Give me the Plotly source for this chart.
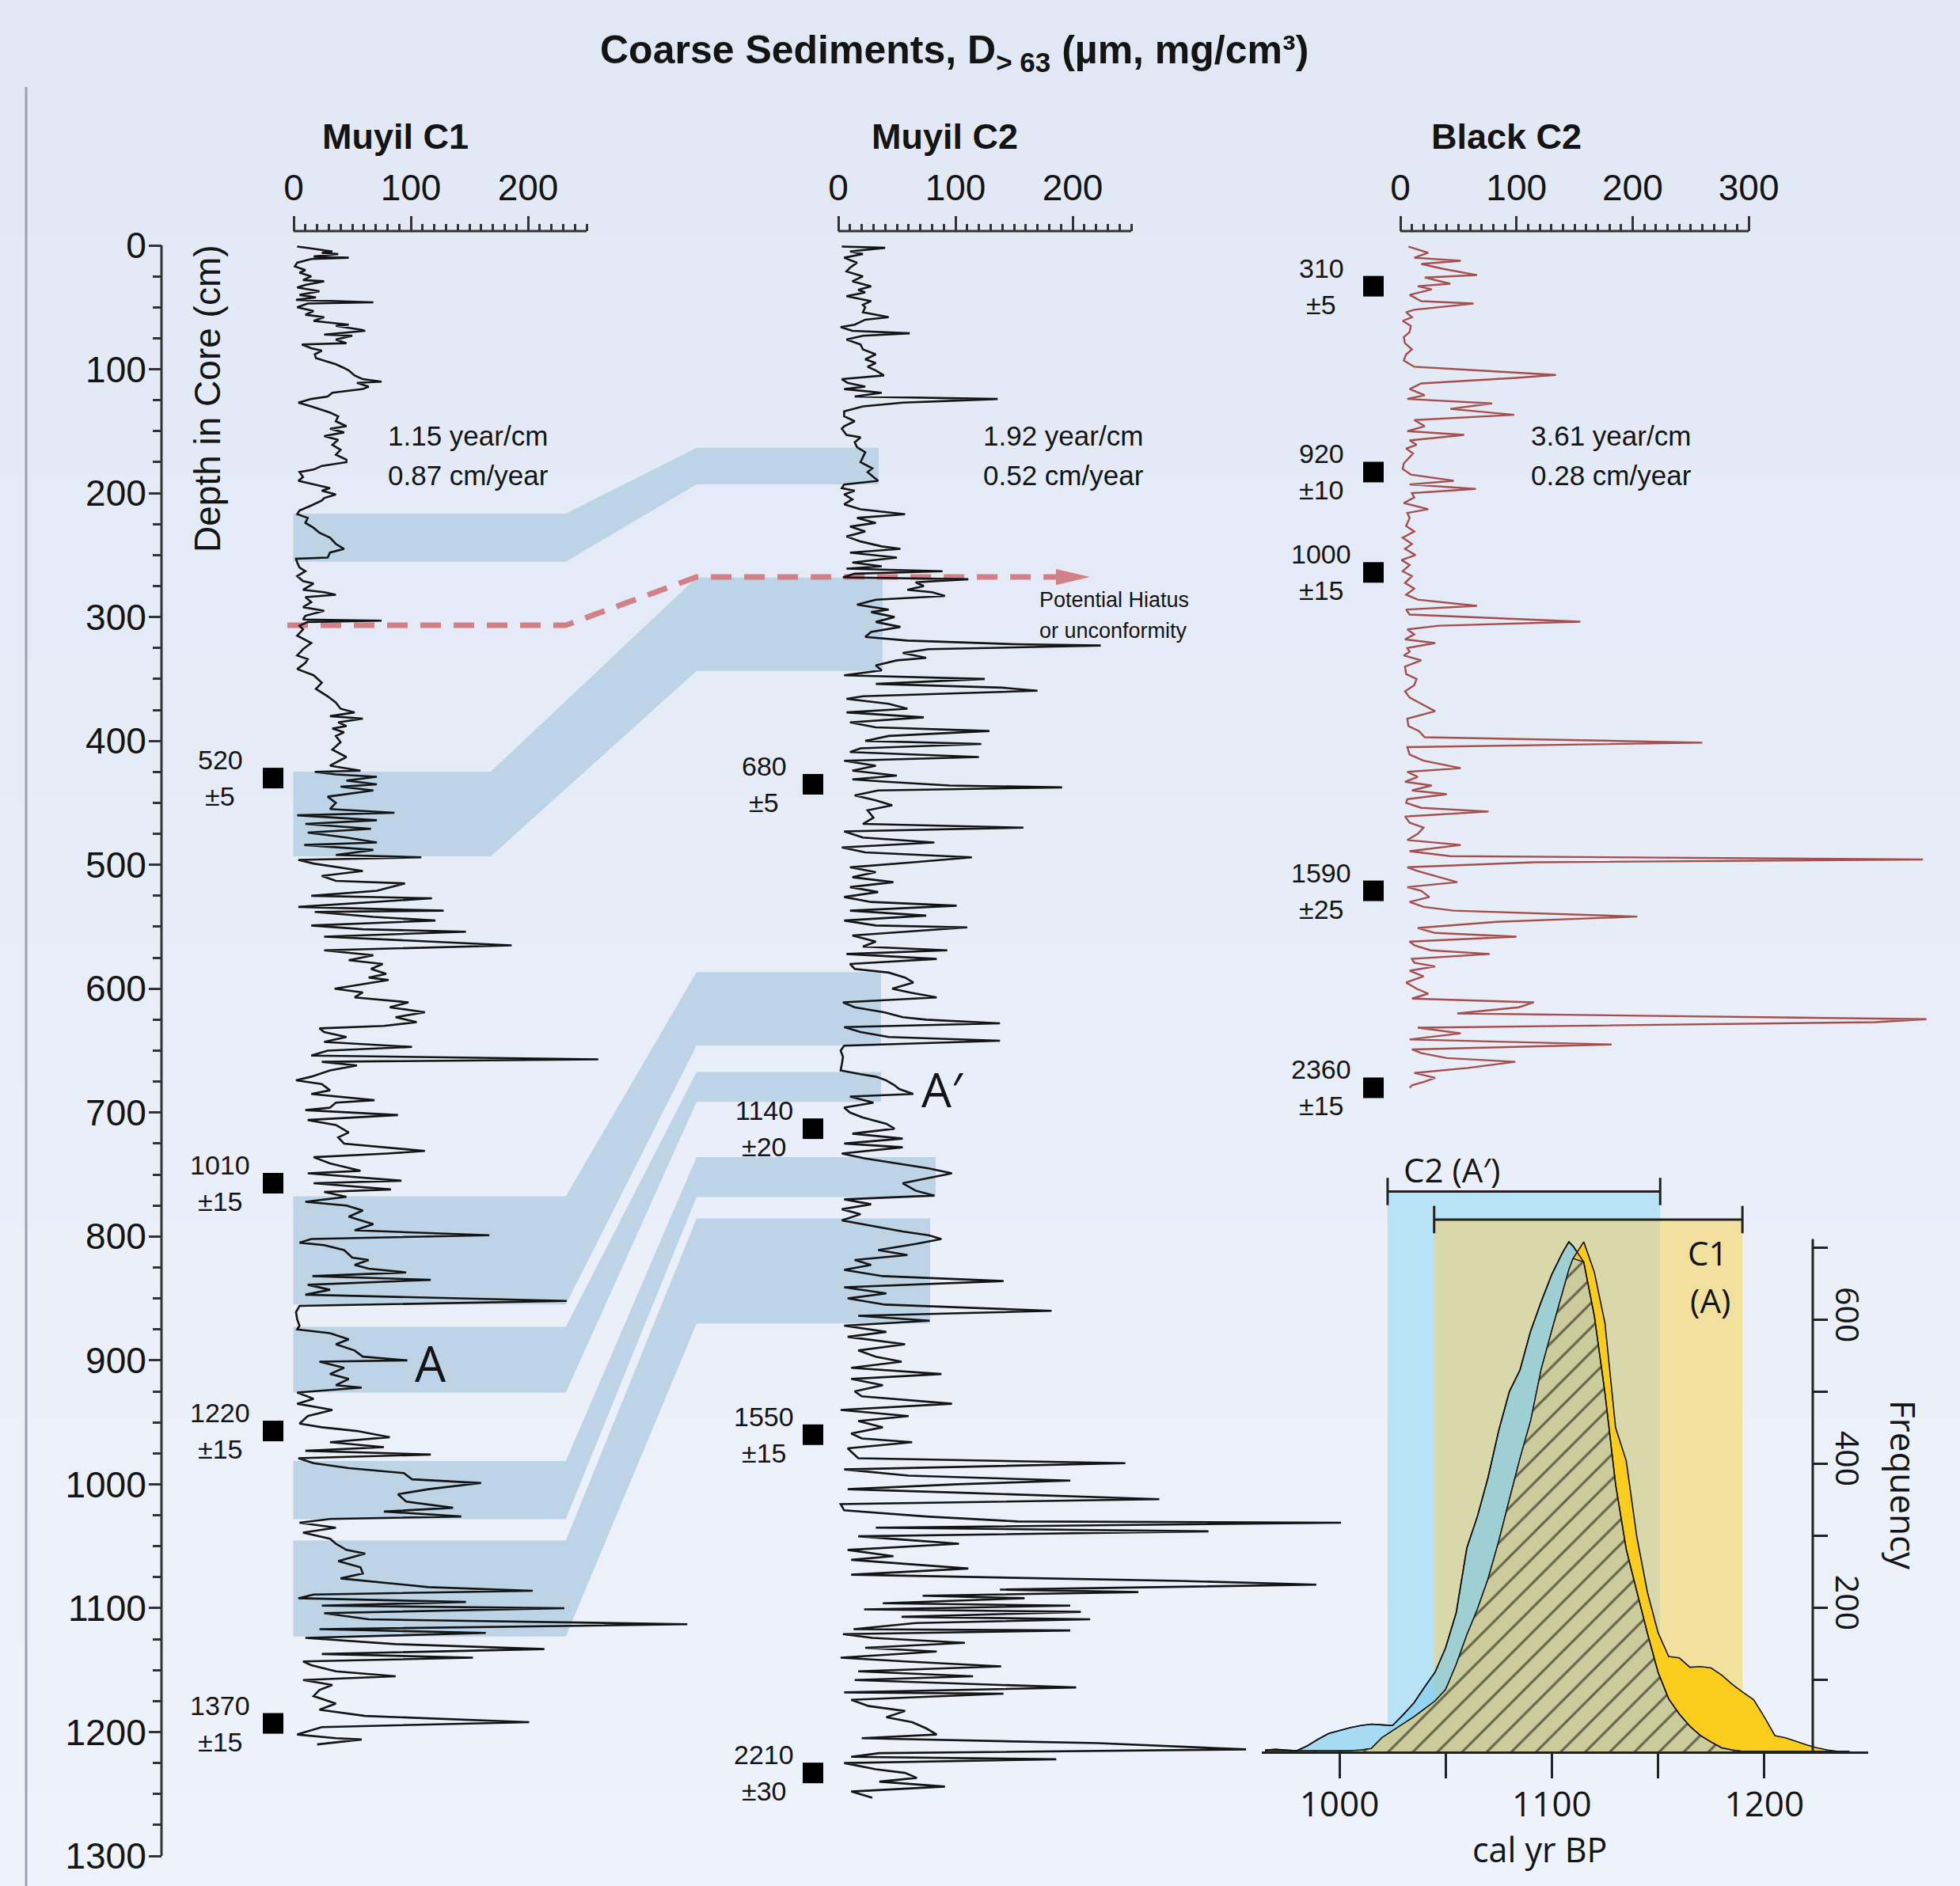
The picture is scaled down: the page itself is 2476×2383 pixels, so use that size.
import numpy as np
import plotly.graph_objects as go

W, H = 2476, 2383
HELV = "Liberation Sans, Arial, Helvetica, sans-serif"
SANS = "Open Sans, Noto Sans, Lato, sans-serif"
INK = "#141414"

# ------------------------------------------------------------------ data
# Muyil C1 : depth (cm) / coarse fraction value
c1_depth = [
    1, 2, 3, 5, 6, 7, 9, 10, 11, 14,
    17, 20, 22, 25, 28, 29, 32, 34, 37, 40,
    42, 44, 46, 47, 50, 53, 56, 58, 61, 64,
    65, 68, 69, 72, 73, 76, 79, 80, 83, 85,
    88, 91, 93, 96, 99, 101, 105, 108, 110, 111,
    114, 116, 119, 122, 124, 127, 130, 132, 135, 138,
    142, 146, 148, 151, 154, 157, 161, 165, 169, 173,
    175, 178, 181, 183, 187, 190, 193, 196, 198, 201,
    204, 206, 210, 214, 217, 220, 224, 228, 232, 236,
    241, 245, 248, 252, 253, 256, 260, 263, 267, 271,
    273, 278, 280, 282, 284, 288, 292, 295, 299, 302,
    303, 304, 307, 310, 315, 321, 326, 331, 334, 337,
    342, 347, 353, 358, 364, 369, 374, 377, 380, 382,
    385, 388, 390, 393, 396, 401, 407,
    413, 420, 424, 425, 427, 429, 432, 435, 437, 440,
    443, 445, 450, 455, 458, 460, 464, 467, 471, 474,
    478, 482, 484, 488, 492, 494, 496, 499, 505, 509,
    513, 515, 521, 525, 527, 534, 537, 538, 542, 545,
    549, 552, 554, 558, 565, 569, 573, 577, 580, 584,
    588, 591, 593, 600, 603, 607, 611, 615, 619, 623,
    627, 630, 632, 635, 639, 643, 647, 650, 654, 657,
    659, 662, 666, 671, 674, 677, 682, 685, 690, 692,
    696, 698, 702, 706, 710, 716, 720, 725, 731, 733,
    736, 741, 747, 749, 755, 757, 762, 764, 768, 772,
    775, 779, 784, 790, 795, 799, 802, 805, 807, 811,
    817, 819, 823, 826,
    829, 832, 835, 839, 843, 847, 852, 856, 861, 867,
    872, 875, 878, 883, 887, 892, 897, 900, 901, 906,
    911, 915, 920, 922, 926, 931, 935, 940, 945, 951,
    954, 957, 962, 966, 970, 973, 976, 979, 983, 987,
    991, 996, 999, 1004, 1008, 1014, 1019, 1022, 1026, 1028,
    1031, 1035, 1039, 1044, 1048, 1053, 1056, 1062, 1067, 1072,
    1076, 1083, 1086, 1089, 1092, 1095, 1098, 1100, 1104, 1109,
    1113, 1117, 1120, 1124, 1129, 1133, 1137, 1140, 1143, 1146,
    1151, 1155, 1158, 1162, 1166, 1171, 1177, 1182, 1187, 1192,
    1196, 1202, 1205, 1206, 1210]
c1_value = [
    3, 12, 19, 33, 24, 38, 17, 47, 15, 3,
    1, 10, 5, 15, 8, 26, 10, 3, 22, 5,
    19, 2, 68, 12, 3, 17, 10, 26, 17, 47,
    36, 57, 61, 26, 50, 36, 45, 7, 15, 24,
    18, 19, 26, 36, 43, 47, 52, 59, 75, 54,
    64, 59, 33, 29, 15, 4, 15, 22, 31, 38,
    36, 45, 31, 43, 26, 38, 33, 40, 36, 45,
    45, 24, 17, 5, 8, 4, 17, 31, 24, 36,
    26, 24, 15, 5, 3, 12, 10, 17, 22, 31,
    36, 43, 31, 29, 2, 3, 5, 10, 3, 8,
    17, 8, 26, 36, 10, 15, 8, 26, 10, 8,
    75, 12, 5, 8, 3, 15, 8, 3, 12, 10,
    3, 17, 24, 19, 29, 36, 40, 52, 31, 59,
    38, 45, 33, 43, 36, 40, 33,
    45, 31, 57, 18, 36, 71, 45, 71, 40, 68,
    45, 29, 36, 31, 86, 3, 71, 10, 66, 12,
    45, 71, 9, 68, 36, 109, 4, 17, 59, 24,
    36, 95, 71, 15, 118, 4, 128, 18, 68, 121,
    15, 59, 147, 26, 186, 26, 68, 47, 76, 66,
    79, 64, 81, 35, 59, 52, 98, 82, 112, 87,
    105, 77, 22, 26, 45, 26, 101, 29, 15, 260,
    24, 54, 31, 15, 2, 24, 31, 15, 69, 36,
    31, 10, 89, 12, 36, 47, 38, 43, 112, 80,
    17, 31, 57, 12, 92, 17, 83, 26, 45, 10,
    45, 59, 47, 68, 52, 167, 15, 5, 26, 43,
    50, 64, 52, 64,
    96, 16, 117, 12, 31, 10, 233, 5, 2, 3,
    5, 3, 31, 47, 36, 52, 59, 97, 22, 43,
    31, 47, 36, 58, 3, 17, 3, 33, 12, 5,
    24, 54, 82, 31, 77, 10, 117, 4, 17, 47,
    94, 101, 160, 115, 89, 96, 136, 77, 143, 31,
    5, 36, 8, 31, 36, 45, 61, 38, 57, 59,
    40, 115, 204, 17, 4, 147, 24, 231, 26, 64,
    336, 22, 164, 10, 87, 214, 24, 153, 8, 15,
    36, 87, 8, 33, 22, 17, 36, 22, 61, 201,
    24, 3, 36, 58, 20]

# Muyil C2
c2_depth = [
    1, 2, 5, 7, 10, 14, 18, 21, 25, 29,
    33, 36, 38, 41, 45, 48, 50, 54, 58, 60,
    64, 66, 69, 71, 73, 76, 80, 84, 88, 92,
    95, 98, 101, 105, 108, 111, 114, 116, 119, 122,
    124, 127, 130, 134, 138, 142, 146, 148, 153, 155,
    159, 163, 167, 171, 175, 180, 183, 187, 190, 193,
    196, 198, 201, 205, 209, 213, 217, 220, 224, 227,
    231, 235, 239, 243, 245, 248, 252, 256, 259, 261,
    263, 265, 268, 269.5, 272, 275, 278, 280, 283, 286,
    290, 294, 296, 300, 304, 308, 312, 316, 319, 322,
    323, 326, 329, 333, 335, 339, 343, 347, 350, 354,
    357, 359.5, 364, 366, 370, 374, 377, 381, 385, 389,
    392, 396, 400, 402.5,
    406, 409, 413, 416, 420, 424, 428, 431, 433, 436,
    437.5, 440, 444, 448, 452, 456, 462, 467, 470, 473,
    478, 482, 486, 490, 494, 498, 502, 506, 510, 514,
    518, 522, 526, 530, 533, 537, 541, 545, 549, 550.5,
    554, 557, 562, 566, 569, 572, 576, 580, 584, 587,
    591, 595, 600, 603, 607, 611, 615, 619, 623, 625,
    628, 631, 635, 639, 642, 646, 650, 655, 661, 666,
    669, 671, 674, 678, 681, 685, 687, 692, 696, 700,
    704, 709, 713, 717, 721, 725, 728, 733, 737, 741,
    745, 749, 752, 757, 763, 767, 770, 774, 778, 782,
    787, 792, 796, 799, 802, 806, 811, 815, 819, 823,
    827, 832, 836, 841, 846, 850, 855, 860, 864, 868,
    872, 877, 881, 887, 892, 897, 901, 906, 911, 915,
    920, 925, 929, 935, 940, 945, 949, 954, 959, 963,
    966, 971, 976, 979, 983, 988, 993, 997, 1000, 1004,
    1007, 1012, 1016, 1021, 1026, 1030, 1031, 1035, 1038, 1042,
    1045, 1048, 1053, 1058, 1061, 1066, 1068, 1073, 1076, 1078,
    1081, 1085, 1087, 1090, 1092, 1096, 1098, 1101, 1103, 1107,
    1109, 1112, 1117, 1118, 1121, 1124, 1128, 1132, 1135, 1140,
    1143, 1147, 1151, 1155, 1158, 1164, 1168, 1169, 1174, 1179,
    1183, 1188, 1192, 1197, 1202, 1205, 1209, 1214, 1217, 1220,
    1222, 1225, 1230, 1233, 1237, 1240, 1244, 1248, 1253]
c2_value = [
    3, 40, 10, 21, 5, 16, 10, 7, 21, 12,
    28, 17, 23, 7, 28, 21, 23, 21, 43, 23,
    14, 2, 12, 61, 21, 7, 19, 21, 32, 23,
    32, 25, 32, 39, 3, 8, 23, 5, 37, 14,
    136, 55, 21, 5, 5, 14, 5, 3, 7, 19,
    14, 16, 23, 21, 19, 29, 25, 30, 34, 5,
    3, 14, 5, 12, 5, 19, 57, 16, 32, 10,
    23, 7, 19, 37, 53, 10, 50, 12, 37, 7,
    89, 14, 4, 111, 66, 73, 59, 80, 91, 32,
    16, 43, 28, 48, 32, 53, 28, 23, 59, 152,
    224, 77, 55, 75, 50, 32, 37, 5, 125, 32,
    140, 170, 21, 7, 43, 59, 7, 73, 10, 32,
    129, 43, 23, 122,
    19, 10, 120, 5, 32, 12, 50, 12, 41, 95,
    191, 34, 14, 32, 46, 25, 30, 21, 158, 5,
    21, 82, 3, 23, 114, 64, 10, 32, 12, 47,
    10, 34, 5, 28, 101, 10, 75, 5, 32, 110,
    55, 12, 32, 21, 93, 7, 84, 10, 14, 43,
    57, 64, 46, 61, 84, 4, 14, 39, 55, 75,
    138, 5, 19, 43, 138, 5, 2, 4, 3, 2,
    19, 32, 41, 48, 52, 64, 10, 30, 5, 10,
    21, 41, 48, 12, 55, 5, 55, 3, 23, 50,
    77, 97, 82, 55, 66, 82, 5, 28, 3, 19,
    3, 32, 55, 77, 88, 66, 34, 59, 14, 28,
    5, 38, 141, 5, 41, 8, 40, 182, 17, 78,
    5, 41, 8, 57, 17, 32, 54, 11, 88, 11,
    38, 14, 20, 97, 2, 60, 17, 38, 11, 20,
    63, 8, 14, 17, 245, 5, 60, 198, 102, 8,
    111, 274, 2, 5, 75, 153, 429, 32, 316, 17,
    60, 103, 8, 47, 11, 84, 111, 11, 168, 292,
    408, 138, 256, 72, 159, 38, 198, 22, 207, 54,
    215, 66, 13, 198, 4, 29, 108, 23, 84, 2,
    57, 139, 17, 115, 14, 203, 5, 141, 11, 26,
    57, 41, 63, 75, 84, 20, 222, 348, 35, 11,
    186, 5, 32, 57, 67, 35, 91, 11, 29]

# Black C2
bl_depth = [
    1, 6, 10, 12.5, 15, 19, 24, 26, 31, 33,
    35.5, 40, 45, 47, 52, 54, 58, 61, 65, 70,
    74, 79, 84, 88, 93, 98, 100, 104.6, 107, 111.5,
    116, 121, 124, 127.6, 132, 136.8, 141, 146, 150, 153,
    157.5, 161, 164, 168, 171, 176, 180.5, 185, 190, 193,
    196.6, 200, 203.5, 208, 213, 216, 220, 226.5, 231, 236,
    241, 245, 250, 254, 258, 263, 267, 272.5, 277, 282,
    286, 291, 294, 298, 303.8, 307, 310, 314, 318, 321,
    325, 328, 331, 335, 340, 346, 350, 355, 360, 365,
    370, 376, 382, 388, 392, 397, 401.4, 405, 411, 416,
    422, 425, 429, 433, 436, 440, 443, 447, 450, 454,
    457, 461, 466, 470, 475, 480, 484, 489, 493, 495.7,
    498, 502, 505, 509, 514, 518, 521, 526, 530, 534,
    537, 541.8, 546, 551, 555, 558, 562, 565, 569, 572,
    576, 579, 582, 585.5, 590, 595, 600, 604, 608, 611,
    615, 620, 624.6, 627, 631.5, 636, 641, 645, 649, 652,
    656, 659, 664, 668, 672, 675, 678, 680]
bl_value = [
    7, 24, 12, 52, 18, 37, 66, 21, 43, 15,
    27, 8, 18, 63, 12, 5, 10, 2, 9, 8,
    3, 4, 10, 5, 3, 12, 49, 134, 99, 18,
    8, 21, 6, 79, 43, 98, 12, 21, 6, 55,
    8, 14, 5, 11, 8, 3, 2, 9, 46, 8,
    65, 10, 12, 3, 24, 6, 8, 5, 12, 2,
    10, 4, 13, 1, 8, 2, 10, 4, 12, 5,
    15, 66, 5, 8, 155, 33, 6, 12, 4, 30,
    6, 8, 3, 18, 4, 5, 14, 12, 4, 8,
    18, 30, 6, 7, 16, 21, 260, 6, 8, 20,
    52, 6, 15, 4, 27, 10, 40, 6, 5, 18,
    76, 4, 8, 20, 15, 6, 52, 8, 43, 450,
    115, 6, 15, 30, 49, 6, 18, 25, 8, 20,
    46, 204, 83, 15, 30, 100, 8, 12, 26, 77,
    10, 12, 30, 8, 20, 5, 14, 24, 10, 115,
    102, 49, 453, 409, 15, 52, 8, 182, 10, 18,
    40, 99, 58, 12, 30, 21, 10, 8]

# radiocarbon age control points
c1_age_depth = [430, 757, 957, 1193]
c1_age = [520, 1010, 1220, 1370]
c1_age_err = [5, 15, 15, 15]
c2_age_depth = [435, 713, 960, 1233]
c2_age = [680, 1140, 1550, 2210]
c2_age_err = [5, 20, 15, 30]
bl_age_depth = [33, 183, 264, 521, 680]
bl_age = [310, 920, 1000, 1590, 2360]
bl_age_err = [5, 10, 15, 25, 15]

# accumulation rates
rates = [("1.15 year/cm", "0.87 cm/year"), ("1.92 year/cm", "0.52 cm/year"), ("3.61 year/cm", "0.28 cm/year")]

# correlated intervals (depth ranges) C1 <-> C2
band_c1_top = [216.6, 424.8, 767.5, 872.9, 981.2, 1045.4]
band_c1_bot = [255.3, 493.1, 854.9, 926.0, 1028.2, 1122.8]
band_c2_top = [163.4, 268.2, 586.6, 667.3, 735.9, 785.5]
band_c2_bot = [192.9, 343.5, 645.8, 691.4, 768.1, 870.3]
hiatus_c1 = 306.6
hiatus_c2 = 267.7

# calibrated age distributions of event A (C1) and A' (C2)
hist_year = [965, 970, 975, 980, 985, 990, 995, 1000, 1005, 1010,
             1015, 1020, 1025, 1030, 1035, 1040, 1045, 1050, 1055, 1060,
             1065, 1070, 1075, 1080, 1085, 1090, 1095, 1100, 1105, 1108,
             1110, 1115, 1120, 1125, 1130, 1135, 1140, 1145, 1150, 1155,
             1160, 1165, 1170, 1175, 1180, 1185, 1190, 1195, 1200, 1205,
             1210, 1215, 1220, 1225, 1230, 1235, 1240]
hist_c2 = [2, 3, 2, 1, 8, 17, 25, 29, 33, 36,
           38, 37, 36, 51, 67, 89, 110, 144, 193, 283,
           327, 381, 446, 500, 530, 584, 625, 663, 693, 708,
           702, 680, 605, 498, 371, 281, 222, 164, 110, 73,
           52, 35, 22, 13, 5, 2, 0, 0, 0, 0,
           0, 0, 0, 0, 0, 0, 0]
hist_c1 = [1, 1, 1, 1, 1, 1, 1, 1, 1, 2,
           4, 19, 29, 38, 48, 59, 70, 86, 121, 162,
           198, 240, 292, 350, 407, 459, 531, 585, 637, 669,
           685, 708, 666, 595, 450, 404, 298, 221, 165, 132,
           130, 117, 118, 116, 106, 93, 82, 72, 48, 22,
           19, 14, 9, 5, 2, 0, 0]
c2_range = [1022.7, 1151.0]   # C2 (A') range
c1_range = [1044.6, 1189.7]   # C1 (A) range

# ------------------------------------------------------------------ layout geometry (pixels)
D0, DS = 310.0, 1.5654          # depth axis: pixel of 0 cm, px per cm
C1_X0, C1_S = 371.0, 1.48
C2_X0, C2_S = 1059.0, 1.48
BL_X0, BL_S = 1769.0, 1.467
AX_Y = 292                      # pixel row of the top axes
HX0, HS = 1692.0, 2.684         # inset: pixel of 1000 yr, px per yr
HY0, HYS = 2213.0, 0.9094       # inset: pixel of freq 0, px per count


def px(x):
    return x / W


def py(y):
    return 1 - y / H


def xr(x0, s):
    return [-x0 / s, (W - x0) / s]


fig = go.Figure()

# ------------------------------------------------------------------ traces
fig.add_trace(go.Scatter(x=c1_value, y=c1_depth, xaxis="x", yaxis="y", mode="lines",
                         line=dict(color=INK, width=2.6), hoverinfo="skip"))
fig.add_trace(go.Scatter(x=c2_value, y=c2_depth, xaxis="x2", yaxis="y", mode="lines",
                         line=dict(color=INK, width=2.6), hoverinfo="skip"))
fig.add_trace(go.Scatter(x=bl_value, y=bl_depth, xaxis="x3", yaxis="y", mode="lines",
                         line=dict(color="rgb(165,78,78)", width=2.4), hoverinfo="skip"))

SQ = dict(symbol="square", size=26, color="#000000", line=dict(width=0))
fig.add_trace(go.Scatter(x=[(345 - C1_X0) / C1_S] * len(c1_age_depth), y=c1_age_depth,
                         xaxis="x", yaxis="y", mode="markers", marker=SQ, hoverinfo="skip"))
fig.add_trace(go.Scatter(x=[(1027 - C2_X0) / C2_S] * len(c2_age_depth), y=c2_age_depth,
                         xaxis="x2", yaxis="y", mode="markers", marker=SQ, hoverinfo="skip"))
fig.add_trace(go.Scatter(x=[(1735 - BL_X0) / BL_S] * len(bl_age_depth), y=bl_age_depth,
                         xaxis="x3", yaxis="y", mode="markers", marker=SQ, hoverinfo="skip"))

# inset distributions
hc2 = np.array(hist_c2, dtype=float)
hc1 = np.array(hist_c1, dtype=float)
overlap = np.minimum(hc1, hc2)
fig.add_trace(go.Scatter(x=hist_year, y=hc2, xaxis="x4", yaxis="y4", mode="lines", fill="tozeroy",
                         fillcolor="rgba(120,204,238,0.6)", line=dict(color=INK, width=1.6),
                         hoverinfo="skip"))
fig.add_trace(go.Scatter(x=hist_year, y=hc1, xaxis="x4", yaxis="y4", mode="lines", fill="tozeroy",
                         fillcolor="rgb(250,205,28)", line=dict(color=INK, width=1.6),
                         hoverinfo="skip"))
fig.add_trace(go.Scatter(x=hist_year, y=overlap, xaxis="x4", yaxis="y4", mode="lines", fill="tozeroy",
                         fillpattern=dict(shape="/", bgcolor="rgb(203,203,156)", fgcolor="#000000",
                                          size=22, solidity=0.14),
                         line=dict(color=INK, width=1.4), hoverinfo="skip"))
fig.add_trace(go.Scatter(x=hist_year, y=hc2, xaxis="x4", yaxis="y4", mode="lines",
                         line=dict(color=INK, width=1.6), hoverinfo="skip"))

# ------------------------------------------------------------------ shapes
shapes = []
top = np.array([225, 232, 244])
bot = np.array([238, 242, 250])
n = 40
for i in range(n):
    c = top + (bot - top) * i / (n - 1)
    shapes.append(dict(type="rect", xref="paper", yref="paper", x0=0, x1=1,
                       y0=max(0, 1 - (i + 1) / n - 0.002), y1=1 - i / n,
                       fillcolor=f"rgb({c[0]:.0f},{c[1]:.0f},{c[2]:.0f})",
                       line=dict(width=0), layer="below"))
# left frame line
shapes.append(dict(type="line", xref="paper", yref="paper", x0=px(33), x1=px(33), y0=0, y1=py(110),
                   line=dict(color="rgb(155,161,172)", width=3), layer="below"))

# correlation bands
band_c1_right = [714.8, 620.0, 714.8, 714.8, 714.8, 714.8]
band_c2_right = [1110, 1115, 1113, 1113, 1182, 1175]
for i in range(len(band_c1_top)):
    a, b = band_c1_top[i], band_c1_bot[i]
    c, d = band_c2_top[i], band_c2_bot[i]
    l1, r1, l2, r2 = px(370.5), px(band_c1_right[i]), px(880), px(band_c2_right[i])
    path = (f"M {l1},{a} L {r1},{a} L {l2},{c} L {r2},{c} L {r2},{d} "
            f"L {l2},{d} L {r1},{b} L {l1},{b} Z")
    shapes.append(dict(type="path", xref="paper", yref="y", path=path,
                       fillcolor="rgb(188,212,229)", line=dict(width=0), layer="below"))

# hiatus dashed line + arrow head
HC = "rgb(208,128,134)"
path = (f"M {px(363)},{hiatus_c1} L {px(714.8)},{hiatus_c1} "
        f"L {px(880)},{hiatus_c2} L {px(1340)},{hiatus_c2}")
shapes.append(dict(type="path", xref="paper", yref="y", path=path,
                   line=dict(color=HC, width=7, dash="26px,16px"), layer="below"))
shapes.append(dict(type="path", xref="paper", yref="y",
                   path=f"M {px(1334)},{hiatus_c2 - 6.5} L {px(1377)},{hiatus_c2} L {px(1334)},{hiatus_c2 + 6.5} Z",
                   fillcolor=HC, line=dict(width=0), layer="below"))

# axis lines
AXC = "#333333"
shapes.append(dict(type="line", xref="paper", yref="y", x0=px(204), x1=px(204), y0=0, y1=1300,
                   line=dict(color=AXC, width=3), layer="above"))
for xa, vmax in (("x", 250), ("x2", 250), ("x3", 300)):
    shapes.append(dict(type="line", xref=xa, yref="paper", x0=0, x1=vmax, y0=py(AX_Y), y1=py(AX_Y),
                       line=dict(color=AXC, width=3), layer="above"))

# inset background ranges and brackets
shapes.append(dict(type="rect", xref="x4", yref="y4", x0=c2_range[0], x1=c2_range[1], y0=0, y1=778,
                   fillcolor="rgb(184,226,245)", line=dict(width=0), layer="below"))
shapes.append(dict(type="rect", xref="x4", yref="y4", x0=c2_range[1], x1=c1_range[1], y0=0, y1=739,
                   fillcolor="rgb(241,224,158)", line=dict(width=0), layer="below"))
shapes.append(dict(type="rect", xref="x4", yref="y4", x0=c1_range[0], x1=c2_range[1], y0=0, y1=739,
                   fillcolor="rgb(216,216,170)", line=dict(width=0), layer="below"))
BK = dict(color="#222222", width=3)
for rng, yv in ((c2_range, 778), (c1_range, 739)):
    shapes.append(dict(type="line", xref="x4", yref="y4", x0=rng[0], x1=rng[1], y0=yv, y1=yv,
                       line=BK, layer="above"))
    for xv in rng:
        shapes.append(dict(type="line", xref="x4", yref="y4", x0=xv, x1=xv, y0=yv - 19, y1=yv + 19,
                           line=BK, layer="above"))
# frequency axis line
shapes.append(dict(type="line", xref="paper", yref="y4", x0=px(2290), x1=px(2290), y0=0, y1=712,
                   line=dict(color="#222222", width=3), layer="above"))

# ------------------------------------------------------------------ annotations
ann = []


def text(x, y, s, size, family=HELV, **kw):
    d = dict(x=px(x), y=py(y), xref="paper", yref="paper", text=s, showarrow=False,
             font=dict(family=family, size=size, color=INK), xanchor="center", yanchor="middle")
    d.update(kw)
    ann.append(d)


text(1205, 66, "<b>Coarse Sediments, D<sub>&gt; 63</sub> (µm, mg/cm³)</b>", 50)
text(499, 172, "<b>Muyil C1</b>", 45)
text(1193, 172, "<b>Muyil C2</b>", 45)
text(1903, 172, "<b>Black C2</b>", 45)
text(262, 504, "Depth in Core (cm)", 46, textangle=-90)
for (a, b), xc in zip(rates, (591, 1343, 2035)):
    text(xc, 551, a, 35)
    text(xc, 600, b, 35)
text(1311, 758, "Potential Hiatus", 27, xanchor="left")
text(1311, 797, "or unconformity", 27, xanchor="left")
text(544, 1722, "A", 62, family=SANS)
text(1191, 1376, "A′", 60, family=SANS)

LAB_OFF = 23 / DS   # half line spacing of the age labels, in cm
for depths, ages, errs, xc in ((c1_age_depth, c1_age, c1_age_err, 345 - 67),
                               (c2_age_depth, c2_age, c2_age_err, 1027 - 62),
                               (bl_age_depth, bl_age, bl_age_err, 1735 - 66)):
    for d, a, e in zip(depths, ages, errs):
        for s, dy in ((f"{a}", -LAB_OFF), (f"±{e}", LAB_OFF)):
            ann.append(dict(x=px(xc), y=d + dy, xref="paper", yref="y", text=s, showarrow=False,
                            font=dict(family=HELV, size=34, color=INK), xanchor="center",
                            yanchor="middle"))

text(1834, 1477, "C2 (A′)", 42, family=SANS)
text(2157, 1582, "C1", 42, family=SANS)
text(2160, 1642, "(A)", 42, family=SANS)
text(1945, 2336, "cal yr BP", 43, family=SANS)
text(2405, 1876, "Frequency", 44, family=SANS, textangle=90)

# ------------------------------------------------------------------ axes


def top_axis(x0, s, vmax, overlay=None):
    vals = list(range(0, vmax + 1, 50))
    d = dict(range=xr(x0, s), domain=[0, 1], anchor="free", position=py(AX_Y), side="top",
             showline=False, showgrid=False, zeroline=False, autorange=False,
             tickmode="array", tickvals=vals, ticktext=[str(v) if v % 100 == 0 else "" for v in vals],
             ticks="outside", ticklen=19, tickwidth=3, tickcolor=AXC,
             tickfont=dict(family=HELV, size=46, color=INK), ticklabelstandoff=2,
             minor=dict(tickmode="array", tickvals=list(range(0, vmax + 1, 10)), ticks="outside",
                        ticklen=9, tickwidth=2.5, tickcolor=AXC),
             fixedrange=True)
    if overlay:
        d["overlaying"] = overlay
    return d


fig.update_layout(
    width=W, height=H, autosize=False,
    margin=dict(l=0, r=0, t=0, b=0, pad=0),
    paper_bgcolor="rgb(232,237,247)", plot_bgcolor="rgba(0,0,0,0)",
    showlegend=False, hovermode=False,
    shapes=shapes, annotations=ann,
    xaxis=top_axis(C1_X0, C1_S, 250),
    xaxis2=top_axis(C2_X0, C2_S, 250, "x"),
    xaxis3=top_axis(BL_X0, BL_S, 300, "x"),
    yaxis=dict(range=[(H - D0) / DS, -D0 / DS], domain=[0, 1], anchor="free", position=px(204),
               side="left", autorange=False, showline=False, showgrid=False, zeroline=False,
               tickmode="array", tickvals=list(range(0, 1301, 100)),
               ticks="outside", ticklen=16, tickwidth=3, tickcolor=AXC,
               tickfont=dict(family=HELV, size=46, color=INK), ticklabelstandoff=-6,
               minor=dict(tickmode="array", tickvals=list(range(0, 1301, 25)), ticks="outside",
                          ticklen=11, tickwidth=3, tickcolor=AXC),
               fixedrange=True),
    xaxis4=dict(domain=[px(1594), px(2360)], range=[1000 + (1594 - HX0) / HS, 1000 + (2360 - HX0) / HS],
                anchor="y4", side="bottom", autorange=False, showgrid=False, zeroline=False,
                showline=True, linewidth=3, linecolor="#222222",
                tickmode="array", tickvals=[1000, 1050, 1100, 1150, 1200, 1250],
                ticktext=["1000", "", "1100", "", "1200", ""],
                ticks="outside", ticklen=31, tickwidth=3, tickcolor="#222222",
                tickfont=dict(family=SANS, size=44, color=INK), ticklabelstandoff=-5,
                fixedrange=True),
    yaxis4=dict(domain=[py(HY0), py(1440)], range=[0, (HY0 - 1440) / HYS], anchor="free",
                position=px(2290), side="right", autorange=False, showgrid=False, zeroline=False,
                showline=False, tickmode="array", tickvals=[100, 200, 300, 400, 500, 600, 700],
                ticktext=["", "200", "", "400", "", "600", ""], tickangle=90,
                ticks="outside", ticklen=18, tickwidth=3, tickcolor="#222222",
                tickfont=dict(family=SANS, size=41, color=INK), ticklabelstandoff=-6,
                fixedrange=True),
)

fig.write_html("out.html", config={"displayModeBar": False},
               post_script="document.body.style.margin='0px';document.body.style.overflow='hidden';")
